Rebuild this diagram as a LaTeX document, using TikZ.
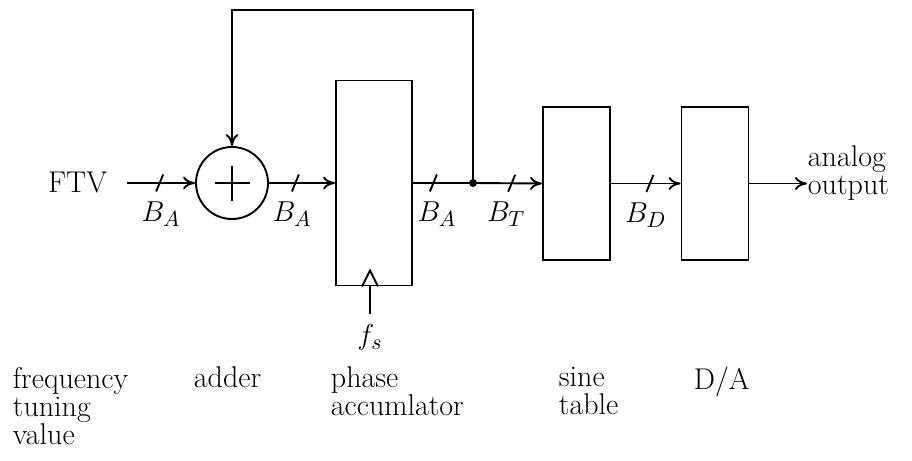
\documentclass[tikz,border=0pt]{standalone}
\usetikzlibrary{arrows.meta,positioning}
\begin{document}
\begin{tikzpicture}[
  x=0.5pt, y=-0.5pt,
  font=\fontsize{15}{14}\selectfont,
  line width=0.95pt,
  box/.style={draw, rectangle, inner sep=0pt},
  adder/.style={draw, circle, minimum size=36pt, inner sep=0pt},
  sig/.style={-{To[length=6pt,width=6.5pt]}},
  bit/.style={below=8pt, inner sep=1pt},
  lbl/.style={anchor=north west, align=left, inner sep=0pt},
  bus/.pic={\draw[-] (-3.5,8.5) -- (3.5,-8.5);},
]
\useasboundingbox (0,0) rectangle (912,461);

% ---- Blocks ---------------------------------------------------------------
\node[anchor=base east, inner sep=0pt] (ftv) at (108,192) {FTV};
\coordinate (in) at (127,183);
\node[adder] (add) at (232,183) {};
\node[box, minimum width=38pt, minimum height=102.5pt] (acc) at (374,183) {};
\coordinate (tap) at (473,183);
\node[box, minimum width=33.5pt, minimum height=76.5pt] (sine) at (576.5,183.5) {};
\node[box, minimum width=33.5pt, minimum height=76.5pt] (da) at (715,183.5) {};
\node[anchor=west, align=left, inner sep=0pt] (out) at (807,173.5) {analog\\output};

% plus sign and clock input
\draw ([xshift=-8.75pt]add.center) -- ([xshift=8.75pt]add.center);
\draw ([yshift=-8.75pt]add.center) -- ([yshift=8.75pt]add.center);
\node[anchor=north, inner sep=1pt] (fs) at (370,322) {$f_s$};
\draw ([xshift=-4pt]fs.north |- acc.south) -- ([yshift=8pt]fs.north |- acc.south)
      -- ([xshift=4pt]fs.north |- acc.south);
\draw ([yshift=4pt]fs.north) -- (fs.north |- acc.south);

% ---- Connectors -----------------------------------------------------------
\draw[sig] (in) -- pic[pos=.48]{bus} node[pos=.5, bit] (b1) {$B_A$} (add.west);
\draw[sig] (add.east) -- pic[pos=.4]{bus} node[pos=.35, bit] (b2) {$B_A$} (acc.west);
\draw (acc.east) -- pic[pos=.34]{bus} node[pos=.4, bit] (b3) {$B_A$} (tap);
\draw[sig] (tap) -- pic[pos=.56]{bus} node[pos=.48, bit] (b4) {$B_T$} (sine.west);
\draw[sig] (sine.east) -- pic[pos=.56]{bus} node[pos=.5, bit] (b5) {$B_D$} (da.west);
\draw[sig] (da.east) -- (da.east -| out.west);
\draw[sig] (tap) -- ++(0,-173) -| (add.north);
\fill (tap) circle[radius=2pt];

% ---- Captions -------------------------------------------------------------
\node[lbl] (l1) at (12,366) {frequency\\tuning\\value};
\node[lbl] (l2) at (193,366) {adder};
\node[lbl] (l3) at (330,366) {phase\\accumlator};
\node[lbl] (l4) at (558,366) {sine\\table};
\node[lbl] (l5) at (693,366) {D/A};

\end{tikzpicture}
\end{document}
